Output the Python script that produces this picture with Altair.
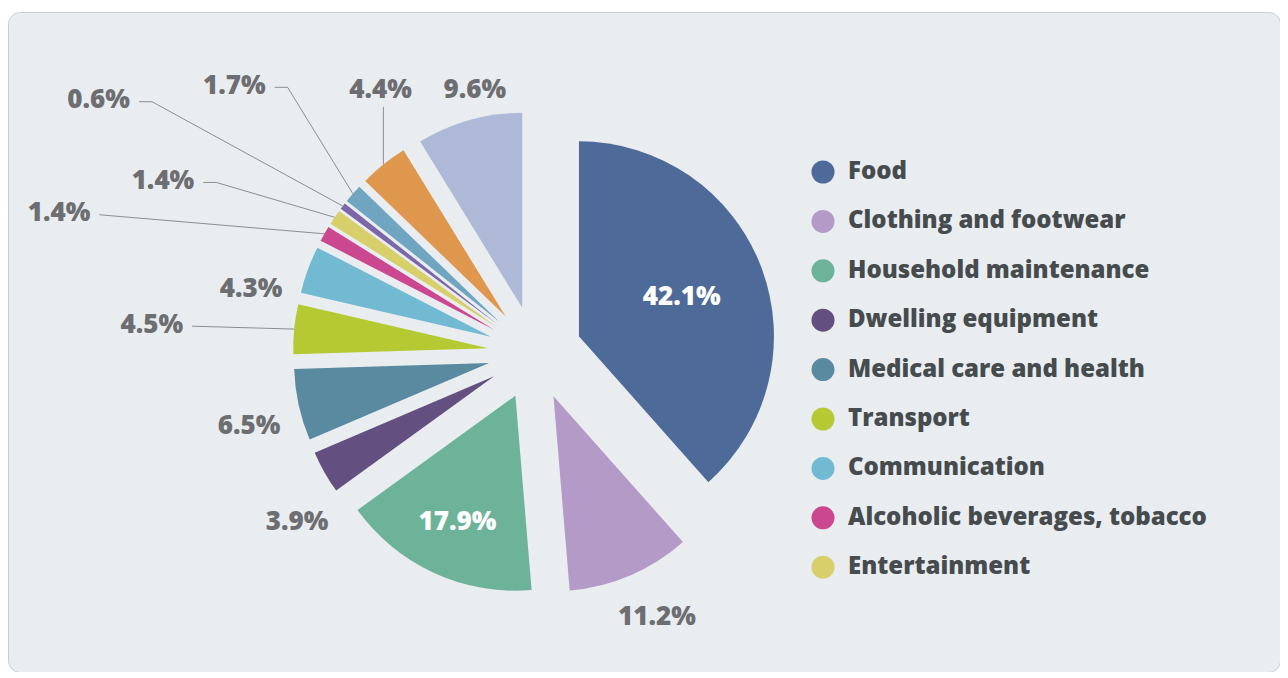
import altair as alt
import pandas as pd

# ---- data ----
categories = [
    "Food", "Clothing and footwear", "Household maintenance", "Dwelling equipment",
    "Medical care and health", "Transport", "Communication",
    "Alcoholic beverages, tobacco", "Entertainment",
    "Education", "Personal care", "Restaurants and hotels", "Other goods and services",
]
values = [42.1, 11.2, 17.9, 3.9, 6.5, 4.5, 4.3, 1.4, 1.4, 0.6, 1.7, 4.4, 9.6]
colors = [
    "#4e6a98", "#b39ac7", "#6db399", "#634f80", "#5a8a9f", "#b5c932", "#72b9d2",
    "#cb4891", "#d7cf6a", "#7b66a8", "#6fa5c0", "#df964d", "#adb9d6",
]
legend_categories = categories[:9]

# ---- label layout (annotation placement, not data) ----
label_kind = ["in", "out", "in", "out", "out", "lead", "out", "lead", "lead", "lead", "lead", "up", "out"]
label_radius = [157, 291, 186, 292, 295, 344, 291, 457, 373, 469, 372, 305, 270]
label_nudge = [0, -1.6, 0, -5.9, -1.9, -1.2, -7.4, -11.9, -6.9, -5.0, 4.4, 8.4, 2.9]
label_elbow = [0, 0, 0, 0, 0, 0, 0, 0, 13, 13, 13, 0, 0]

CX, CY = 527, 341      # pie centre inside the view
EXPLODE, R = 47, 195   # slice offset and radius
FONT = "Open Sans"
GRAY = "#6d6e71"

df = pd.DataFrame({
    "category": categories,
    "value": values,
    "order": list(range(len(categories))),
    "kind": label_kind,
    "lr": label_radius,
    "ln": label_nudge,
    "elbow": label_elbow,
})

base = (
    alt.Chart(df)
    .transform_window(cum="sum(value)", sort=[alt.SortField("order")], frame=[None, 0])
    .transform_joinaggregate(total="sum(value)")
    .transform_calculate(a0="2*PI*(datum.cum - datum.value)/datum.total")
    .transform_calculate(a1="2*PI*datum.cum/datum.total")
    .transform_calculate(am="(datum.a0 + datum.a1)/2")
    .transform_calculate(ox=f"{CX} + {EXPLODE}*sin(datum.am)")
    .transform_calculate(oy=f"{CY} - {EXPLODE}*cos(datum.am)")
    .transform_calculate(ax=f"{CX} + {EXPLODE + R}*sin(datum.am)")
    .transform_calculate(ay=f"{CY} - {EXPLODE + R}*cos(datum.am)")
    .transform_calculate(lx=f"{CX} + datum.lr*sin(datum.am + datum.ln*PI/180)")
    .transform_calculate(ly=f"{CY} - datum.lr*cos(datum.am + datum.ln*PI/180)")
    .transform_calculate(ex="datum.kind == 'up' ? datum.ax : datum.lx + datum.elbow")
    .transform_calculate(ey="datum.kind == 'up' ? datum.ly + 17 : datum.ly")
    .transform_calculate(label="format(datum.value, '.1f') + '%'")
)

legend = alt.Legend(
    values=legend_categories, title=None, orient="none", legendX=803, legendY=148,
    direction="vertical", symbolType="circle", symbolSize=530, symbolStrokeWidth=0,
    symbolOpacity=1, labelFont=FONT, labelFontSize=24, labelFontWeight=800,
    labelColor="#464b4e", labelOffset=13, rowPadding=25.4, labelLimit=0, padding=0,
)

arcs = base.mark_arc(radius=R).encode(
    x=alt.X("ox:Q", scale=None, axis=None),
    y=alt.Y("oy:Q", scale=None, axis=None),
    theta=alt.Theta("a0:Q", scale=None, stack=False),
    theta2="a1:Q",
    color=alt.Color("category:N", scale=alt.Scale(domain=categories, range=colors), legend=legend),
)

seg1 = base.transform_filter("datum.kind == 'lead' || datum.kind == 'up'").mark_rule(
    color="#8c8e90", strokeWidth=1
).encode(
    x=alt.X("ax:Q", scale=None, axis=None), y=alt.Y("ay:Q", scale=None, axis=None),
    x2="ex:Q", y2="ey:Q",
)
seg2 = base.transform_filter("datum.kind == 'lead' && datum.elbow > 0").mark_rule(
    color="#8c8e90", strokeWidth=1
).encode(
    x=alt.X("lx:Q", scale=None, axis=None), y=alt.Y("ly:Q", scale=None, axis=None),
    x2="ex:Q", y2="ey:Q",
)

txt = dict(font=FONT, fontSize=26, fontWeight=800, baseline="middle")
inner = base.transform_filter("datum.kind == 'in'").mark_text(color="white", align="center", **txt).encode(
    x=alt.X("lx:Q", scale=None, axis=None), y=alt.Y("ly:Q", scale=None, axis=None), text="label:N")
outer = base.transform_filter("datum.kind == 'out' || datum.kind == 'up'").mark_text(
    color=GRAY, align="center", **txt).encode(
    x=alt.X("lx:Q", scale=None, axis=None), y=alt.Y("ly:Q", scale=None, axis=None), text="label:N")
lead = base.transform_filter("datum.kind == 'lead'").mark_text(
    color=GRAY, align="right", dx=-9, dy=-1.5, **txt).encode(
    x=alt.X("lx:Q", scale=None, axis=None), y=alt.Y("ly:Q", scale=None, axis=None), text="label:N")

chart = (
    alt.layer(arcs, seg1, seg2, inner, outer, lead)
    .properties(width=1272, height=660, padding={"left": 0, "top": 4, "right": 0, "bottom": 0},
                background="white")
    .configure_view(fill="#e9edf0", stroke="#c5cdd4", strokeWidth=1, cornerRadius=12)
)

chart.save("out.html", embed_options={"renderer": "svg", "actions": False})
